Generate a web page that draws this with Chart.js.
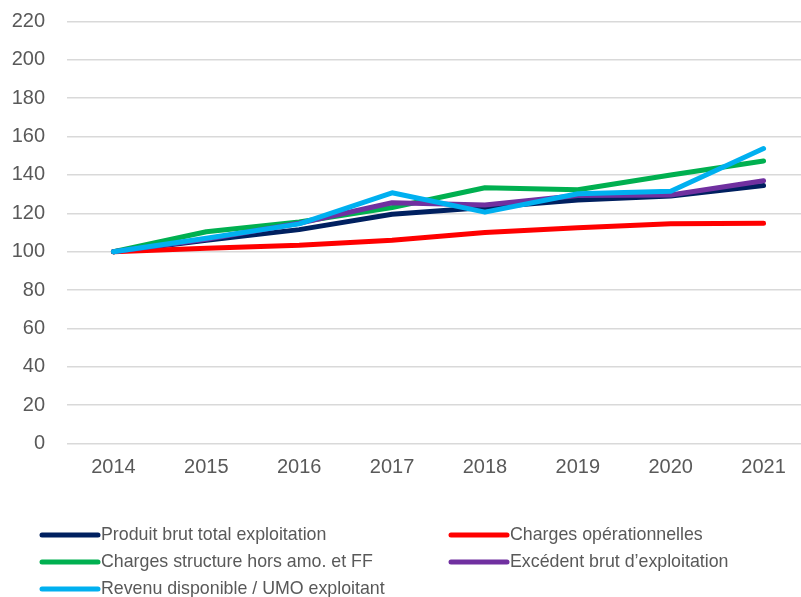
<!DOCTYPE html>
<html>
<head>
<meta charset="utf-8">
<script src="https://cdn.jsdelivr.net/npm/chart.js@4"></script>
<style>
  html, body { margin: 0; padding: 0; background: #fff; overflow: hidden; }
  #wrap { width: 810px; height: 597px; }
</style>
</head>
<body>
<div id="wrap"><canvas id="graph"></canvas></div>
<script>
const years = ["2014", "2015", "2016", "2017", "2018", "2019", "2020", "2021"];
const produitBrut = [100, 106, 111.5, 119.5, 123, 127, 129, 134.5];
const chargesOper = [100, 101.8, 103.3, 106, 110, 112.5, 114.5, 114.8];
const chargesStruct = [100, 110.4, 115.5, 123, 133.3, 132.3, 140, 147.3];
const ebe = [100, 106.5, 114.8, 125.5, 124.3, 129.3, 129.5, 137];
const revenuUmo = [100, 107, 114.5, 130.7, 120.6, 130.2, 131.5, 153.8];
const yTicks = [0, 20, 40, 60, 80, 100, 120, 140, 160, 180, 200, 220];

const seriesNames = [
  "Produit brut total exploitation",
  "Charges opérationnelles",
  "Charges structure hors amo. et FF",
  "Excédent brut d’exploitation",
  "Revenu disponible / UMO exploitant"
];
const seriesData = [produitBrut, chargesOper, chargesStruct, ebe, revenuUmo];
const colors = ["#002060", "#FF0000", "#00B050", "#7030A0", "#00B0F0"];

const FONT = "'Liberation Sans', Arial, sans-serif";
const textGrey = "#595959";

// legend in two columns, drawn under the plot
const legendPlugin = {
  id: "twoColLegend",
  afterDraw(chart) {
    const ctx = chart.ctx;
    const colX = [42, 451];
    const rowY = [535, 562, 589];
    ctx.save();
    ctx.font = "17.8px " + FONT;
    ctx.textBaseline = "middle";
    ctx.lineCap = "round";
    chart.data.datasets.forEach((ds, i) => {
      const x = colX[i % 2];
      const y = rowY[Math.floor(i / 2)];
      ctx.strokeStyle = ds.borderColor;
      ctx.lineWidth = 5;
      ctx.beginPath();
      ctx.moveTo(x, y);
      ctx.lineTo(x + 56, y);
      ctx.stroke();
      ctx.fillStyle = textGrey;
      ctx.fillText(ds.label, x + 59, y);
    });
    ctx.restore();
  }
};

const datasets = seriesNames.map((name, i) => ({
  label: name,
  data: seriesData[i],
  borderColor: colors[i],
  backgroundColor: colors[i],
  borderWidth: 5,
  borderCapStyle: "round",
  borderJoinStyle: "round",
  pointRadius: 0,
  tension: 0,
  order: seriesNames.length - i
}));

new Chart(document.getElementById("graph"), {
  type: "line",
  data: { labels: years, datasets: datasets },
  options: {
    responsive: true,
    maintainAspectRatio: false,
    animation: false,
    layout: { padding: { top: 21.5, right: 0, bottom: 0, left: 0 } },
    plugins: {
      legend: { display: false },
      tooltip: { enabled: false }
    },
    scales: {
      x: {
        offset: true,
        grid: { display: false, drawTicks: false },
        border: { display: false },
        ticks: { color: textGrey, font: { family: FONT, size: 20 }, padding: 12 },
        afterFit(scale) { scale.height = 153.5; }
      },
      y: {
        min: 0,
        max: 220,
        afterBuildTicks(scale) { scale.ticks = yTicks.map(v => ({ value: v })); },
        grid: { color: "#d9d9d9", lineWidth: 1.5, drawTicks: false },
        border: { display: false },
        ticks: { color: textGrey, font: { family: FONT, size: 20 }, padding: 22 },
        afterFit(scale) {
          scale.width = 67;
          scale.paddingTop = 0;
          scale.paddingBottom = 0;
        }
      }
    }
  },
  plugins: [legendPlugin]
});
</script>
</body>
</html>
